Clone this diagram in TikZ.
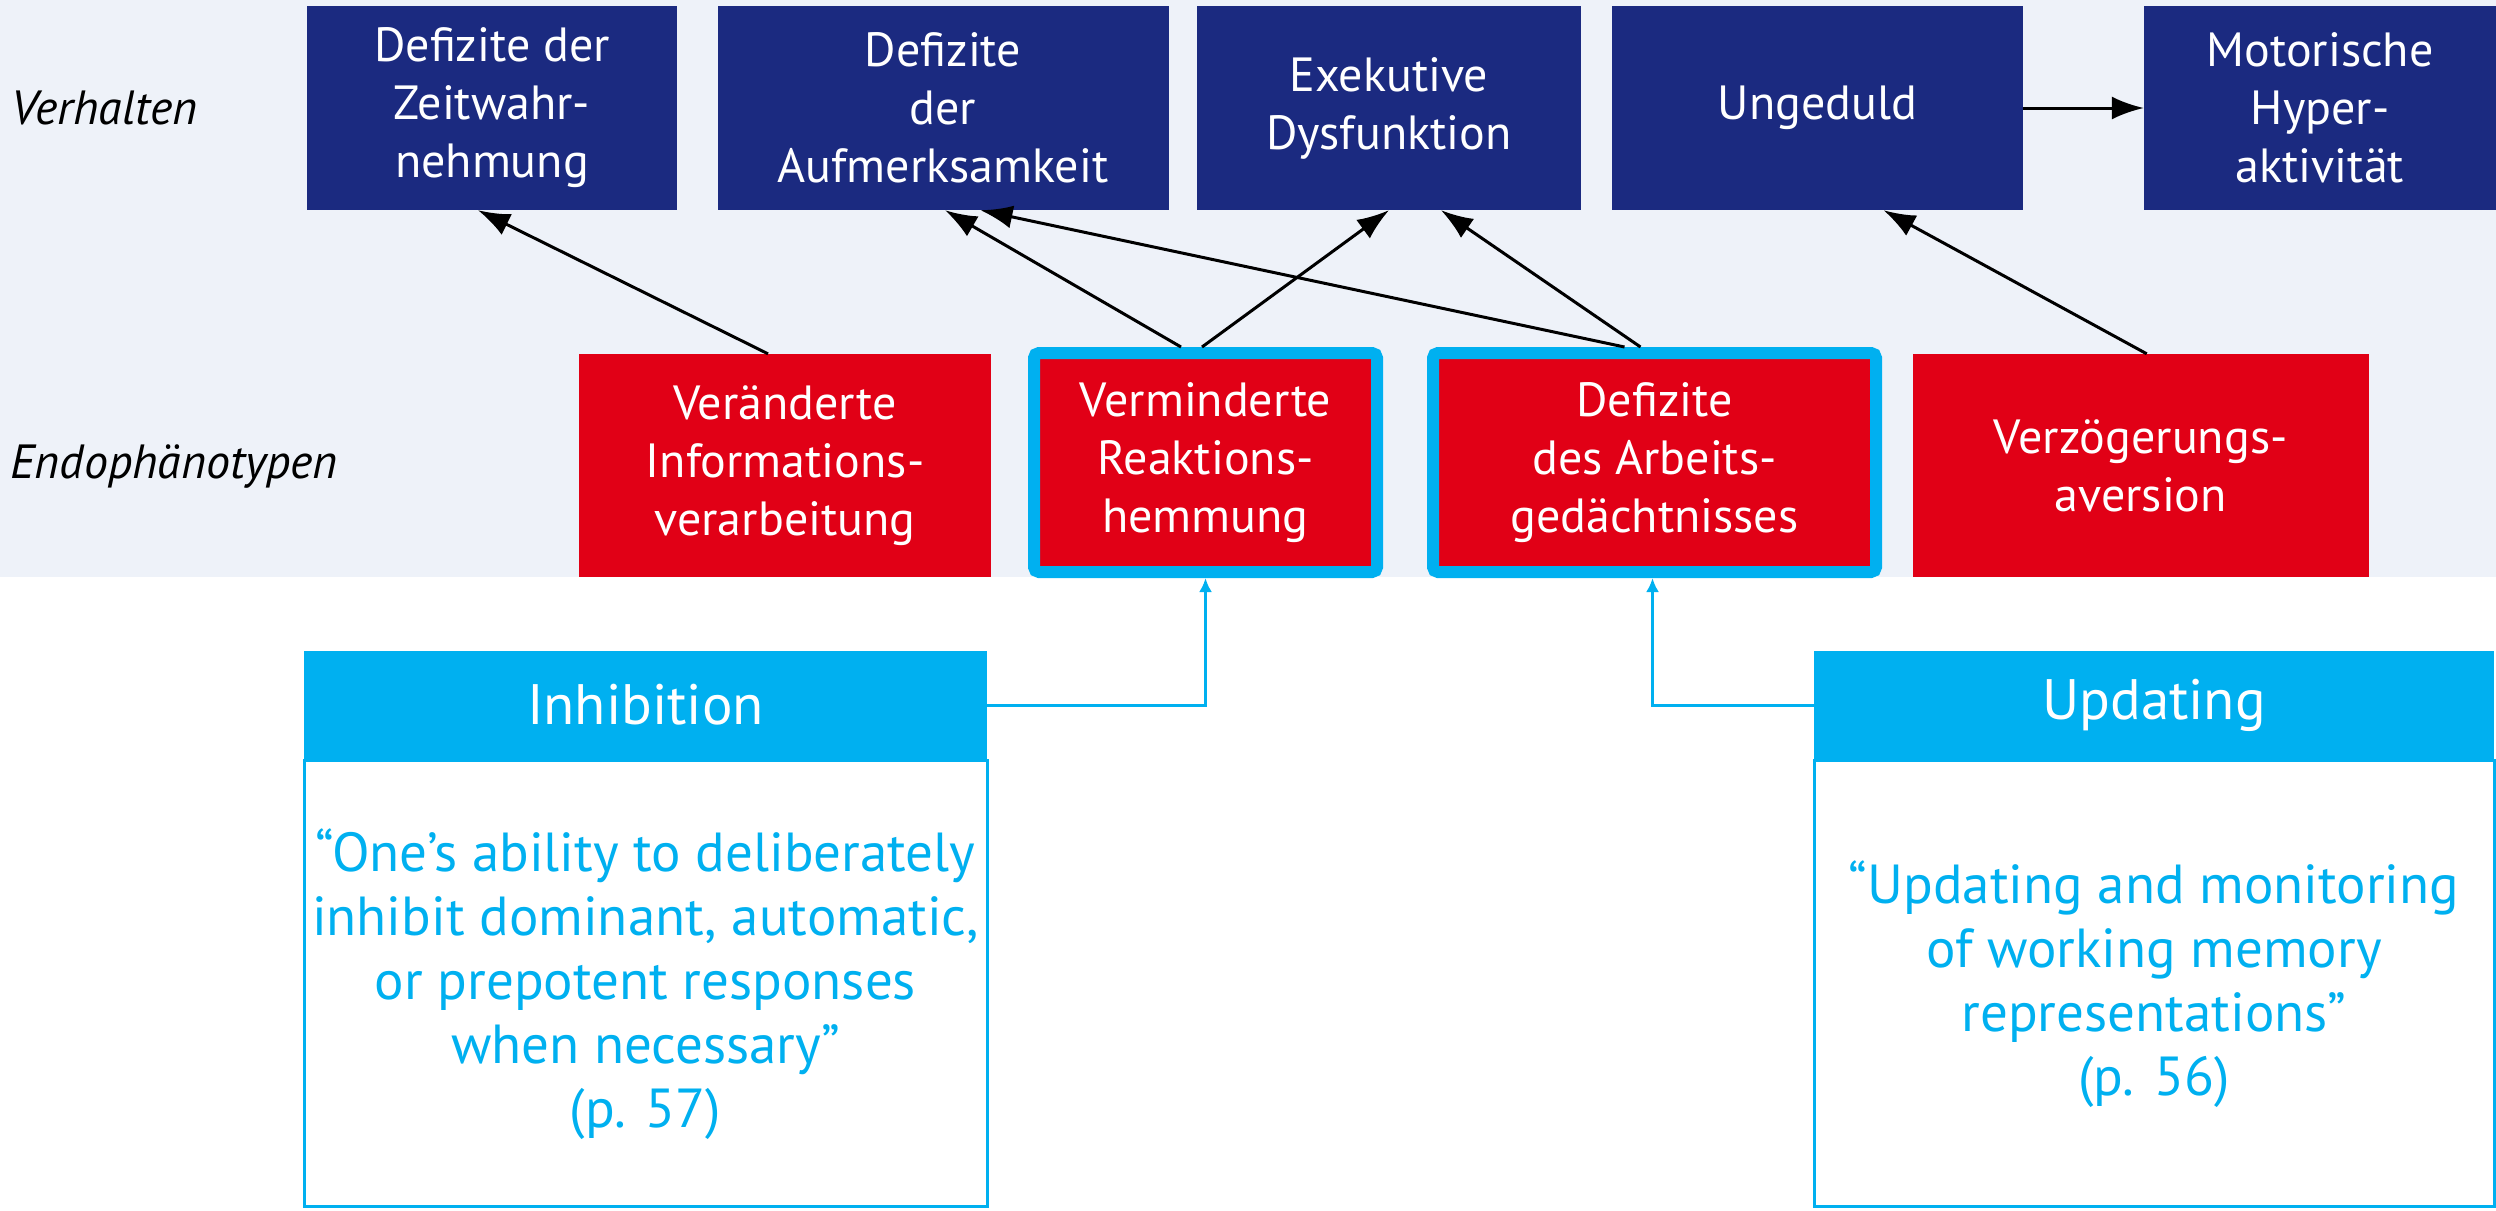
\documentclass[tikz,border=0pt]{standalone}
\usepackage{fontspec}
\setmainfont{PT Sans}
\usetikzlibrary{arrows.meta,calc}
\definecolor{dblue}{RGB}{27,42,128}
\definecolor{ared}{RGB}{225,0,22}
\definecolor{acyan}{RGB}{0,176,240}
\definecolor{band}{RGB}{238,242,249}
\begin{document}
\begin{tikzpicture}[x=1pt,y=-1pt,
  boxfont/.style={font=\fontsize{48}{58}\selectfont},
  beh/.style={boxfont, fill=dblue, text=white, align=center, inner sep=0pt, minimum height=204pt},
  endo/.style={boxfont, fill=ared, text=white, align=center, inner sep=0pt, minimum height=223pt},
  endohl/.style={boxfont, fill=ared, text=white, align=center, inner sep=0pt, draw=acyan, line width=12pt, rounded corners=5pt, minimum height=219pt},
  lab/.style={anchor=west, inner sep=0pt, font=\itshape\fontsize{48}{58}\selectfont},
  blk/.style={line width=3pt, -{Latex[length=32pt,width=23pt]}},
  cyl/.style={draw=acyan, line width=3pt, -{Latex[length=14pt,width=13pt]}},
  head/.style={fill=acyan, text=white, inner sep=0pt, minimum height=108pt, font=\fontsize{57}{64}\selectfont},
  body/.style={draw=acyan, line width=3pt, fill=white, text=acyan, align=center, inner sep=0pt, minimum height=446pt, font=\fontsize{55}{64}\selectfont}
]
\useasboundingbox (0,0) rectangle (2496,1210);
\fill[band] (0,0) rectangle (2496,577);

\node[lab] (lv) at (11,108) {Verhalten};
\node[lab] (le) at (10,467) {Endophänotypen};

\node[beh, minimum width=370pt] (b1) at (492,108) {Defizite der\\Zeitwahr-\\nehmung};
\node[beh, minimum width=451pt] (b2) at (943,108) {Defizite\\der\\Aufmerksamkeit};
\node[beh, minimum width=384pt] (b3) at (1389,108) {Exekutive\\Dysfunktion};
\node[beh, minimum width=411pt] (b4) at (1817.5,108) {Ungeduld};
\node[beh, minimum width=352pt] (b5) at (2320,108) {Motorische\\Hyper-\\aktivität};

\node[endo, minimum width=412pt] (r1) at (785,465.5) {Veränderte\\Informations-\\verarbeitung};
\node[endohl, minimum width=343pt] (r2) at (1205.5,462.5) {Verminderte\\Reaktions-\\hemmung};
\node[endohl, minimum width=443pt] (r3) at (1654.5,462.5) {Defizite\\des Arbeits-\\gedächtnisses};
\node[endo, minimum width=456pt] (r4) at (2140.7,465.5) {Verzögerungs-\\aversion};

\draw[blk] ([xshift=-17pt]r1.north) -- ([xshift=-14pt]b1.south);
\draw[blk] ([xshift=-24.5pt]r2.north) -- ([xshift=2pt]b2.south);
\draw[blk] ([xshift=-3.5pt]r2.north) -- ([xshift=0pt]b3.south);
\draw[blk] ([xshift=-30pt]r3.north) -- ([xshift=37.5pt]b2.south);
\draw[blk] ([xshift=-14pt]r3.north) -- ([xshift=52pt]b3.south);
\draw[blk] ([xshift=6pt]r4.north) -- ([xshift=66pt]b4.south);
\draw[blk] (b4.east) -- (b5.west);

\node[head, minimum width=683pt] (ih) at (645.5,705) {Inhibition};
\node[body, minimum width=683pt, anchor=north] (ib) at (ih.south) {“One’s ability to deliberately\\inhibit dominant, automatic,\\or prepotent responses\\when necessary”\\(p. 57)};

\node[head, minimum width=680pt] (uh) at (2154,705) {Updating};
\node[body, minimum width=680pt, anchor=north] (ub) at (uh.south) {“Updating and monitoring\\of working memory\\representations”\\(p. 56)};

\draw[cyl] (ih.east) -| (r2.south);
\draw[cyl] (uh.west) -| ([xshift=-2pt]r3.south);
\end{tikzpicture}
\end{document}
